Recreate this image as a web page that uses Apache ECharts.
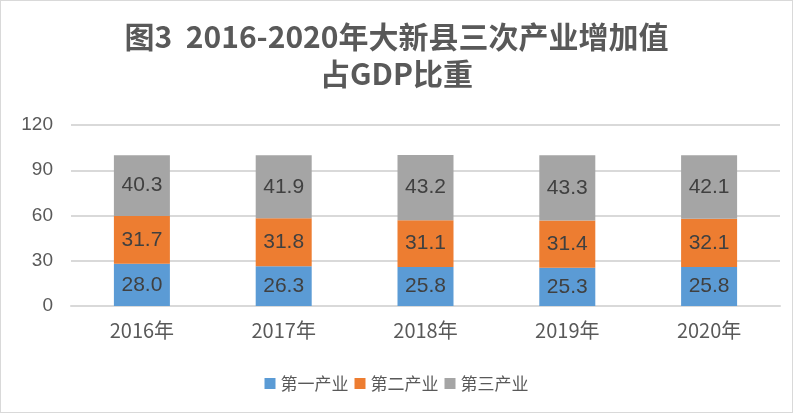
<!DOCTYPE html>
<html>
<head>
<meta charset="utf-8">
<script src="https://cdn.jsdelivr.net/npm/echarts@6/dist/echarts.min.js"></script>
<style>
  html, body { margin: 0; padding: 0; background: #fff; }
  #chart { width: 791px; height: 411px; border: 1px solid #d9d9d9; }
</style>
</head>
<body>
<div id="chart"></div>
<script>
  // 年份与各产业占比（%）
  var years = ['2016年', '2017年', '2018年', '2019年', '2020年'];
  var primary = [28.0, 26.3, 25.8, 25.3, 25.8];
  var secondary = [31.7, 31.8, 31.1, 31.4, 32.1];
  var tertiary = [40.3, 41.9, 43.2, 43.3, 42.1];
  var seriesNames = ['第一产业', '第二产业', '第三产业'];
  var colors = ['#5B9BD5', '#ED7D31', '#A5A5A5'];

  var myChart = echarts.init(document.getElementById('chart'));
  var fontCJK = '"Noto Sans CJK SC", "Noto Sans", sans-serif';

  function makeSeries(name, data, color) {
    return {
      name: name,
      type: 'bar',
      stack: 'total',
      barWidth: 56,
      itemStyle: { color: color },
      label: {
        show: true,
        position: 'inside',
        color: '#404040',
        fontSize: 21,
        fontFamily: 'Liberation Sans, sans-serif',
        formatter: function (p) { return p.value.toFixed(1); }
      },
      data: data
    };
  }

  var option = {
    animation: false,
    title: {
      text: '图3  2016-2020年大新县三次产业增加值\n占GDP比重',
      left: 'center',
      top: 12,
      textStyle: {
        color: '#595959',
        fontSize: 30,
        fontWeight: 'bold',
        fontFamily: fontCJK,
        lineHeight: 37
      }
    },
    legend: {
      bottom: 15,
      left: 'center',
      itemWidth: 11,
      itemHeight: 11,
      itemGap: 6,
      icon: 'rect',
      textStyle: { color: '#595959', fontSize: 17, fontFamily: fontCJK },
      data: seriesNames
    },
    grid: { left: 70, right: 12, top: 124, bottom: 106 },
    xAxis: {
      type: 'category',
      data: years,
      axisLine: { lineStyle: { color: '#d9d9d9', width: 2 } },
      axisTick: { show: false },
      axisLabel: { color: '#595959', fontSize: 20, margin: 14, fontFamily: fontCJK }
    },
    yAxis: {
      type: 'value',
      min: 0,
      max: 120,
      interval: 30,
      axisLine: { show: false },
      axisTick: { show: false },
      splitLine: { lineStyle: { color: '#d9d9d9', width: 2 } },
      axisLabel: { color: '#595959', fontSize: 19, margin: 18, fontFamily: 'Liberation Sans, sans-serif' }
    },
    series: [
      makeSeries(seriesNames[0], primary, colors[0]),
      makeSeries(seriesNames[1], secondary, colors[1]),
      makeSeries(seriesNames[2], tertiary, colors[2])
    ]
  };
  myChart.setOption(option);
</script>
</body>
</html>
